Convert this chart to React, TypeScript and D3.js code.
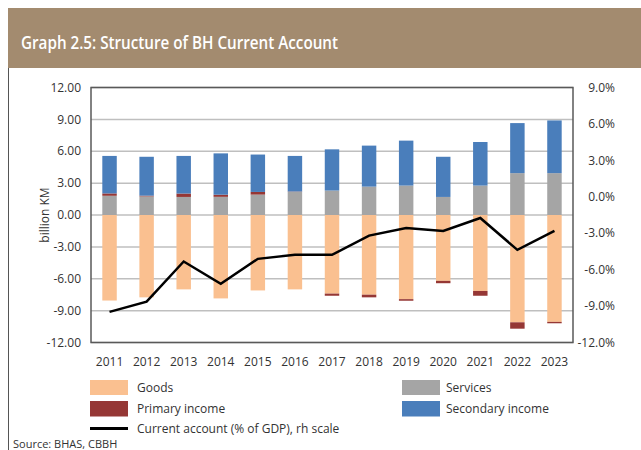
import React from "react";
import * as d3 from "d3";

const years = ["2011","2012","2013","2014","2015","2016","2017","2018","2019","2020","2021","2022","2023"];
const goods = [-8.05, -7.75, -7.0, -7.85, -7.1, -7.0, -7.4, -7.5, -7.92, -6.2, -7.15, -10.1, -10.06];
const services = [1.81, 1.75, 1.7, 1.71, 1.92, 2.18, 2.3, 2.67, 2.77, 1.7, 2.77, 3.94, 3.94];
const primaryIncome = [0.22, 0.07, 0.32, 0.2, 0.25, 0.03, -0.2, -0.25, -0.15, -0.22, -0.45, -0.6, -0.13];
const secondaryIncome = [3.53, 3.66, 3.54, 3.89, 3.52, 3.35, 3.88, 3.86, 4.23, 3.78, 4.1, 4.71, 4.96];
const currentAccountPct = [-9.48, -8.64, -5.33, -7.16, -5.11, -4.78, -4.78, -3.2, -2.57, -2.81, -1.75, -4.37, -2.81];
const leftTicks = [12, 9, 6, 3, 0, -3, -6, -9, -12];
const rightTicks = [9, 6, 3, 0, -3, -6, -9, -12];

const seriesKeys = ["goods", "services", "primary", "secondary"];
const seriesColors: Record<string, string> = {
  goods: "#fac090",
  services: "#a5a5a5",
  primary: "#953735",
  secondary: "#4a7ebb",
};

const W = 641, H = 450;
const plot = { left: 91, right: 573, top: 87.5, bottom: 342.5 };
const FONT = "'Open Sans', 'DejaVu Sans', sans-serif";

export default function App() {
  const rows = years.map((y, i) => ({
    year: y,
    goods: goods[i],
    services: services[i],
    primary: primaryIncome[i],
    secondary: secondaryIncome[i],
  }));
  const stack = d3.stack<any>().keys(seriesKeys).offset(d3.stackOffsetDiverging);
  const stacked = stack(rows);

  const x = d3.scaleBand<string>().domain(years).range([plot.left, plot.right]).paddingInner(0.61).paddingOuter(0.305);
  const yL = d3.scaleLinear().domain([-12, 12]).range([plot.bottom, plot.top]);
  const yR = d3.scaleLinear().domain([-12, 9]).range([plot.bottom, plot.top]);

  const line = d3.line<number>()
    .x((_, i) => (x(years[i]) as number) + x.bandwidth() / 2)
    .y((d) => yR(d));

  const textColor = "#333";

  return (
    <svg width={W} height={H} style={{ position: "absolute", left: 0, top: 0, display: "block" }} fontFamily={FONT}>
      <rect x={0} y={0} width={W} height={H} fill="#fff" />
      {/* title band */}
      <rect x={8} y={8} width={W - 8} height={60} fill="#a38b6f" />
      <text x={21} y={48.5} fill="#fff" fontSize={18} fontWeight={600} textLength={317} lengthAdjust="spacingAndGlyphs">
        Graph 2.5: Structure of BH Current Account
      </text>
      <line x1={8.5} x2={8.5} y1={68} y2={H} stroke="#555" strokeWidth={1} />

      {/* gridlines */}
      {leftTicks.map((t) => (
        <line key={"g" + t} x1={plot.left} x2={plot.right} y1={yL(t)} y2={yL(t)} stroke="#bfbfbf" strokeWidth={1.5} />
      ))}

      {/* bars */}
      {stacked.map((s) => (
        <g key={s.key} fill={seriesColors[s.key]}>
          {s.map((d, i) => {
            const y0 = yL(d[0]);
            const y1 = yL(d[1]);
            return (
              <rect
                key={i}
                x={x(years[i])}
                width={x.bandwidth()}
                y={Math.min(y0, y1)}
                height={Math.abs(y0 - y1)}
              />
            );
          })}
        </g>
      ))}

      {/* line */}
      <path d={line(currentAccountPct) || ""} fill="none" stroke="#000" strokeWidth={2.5} strokeLinejoin="miter" />

      {/* frame */}
      <rect x={plot.left} y={plot.top} width={plot.right - plot.left} height={plot.bottom - plot.top} fill="none" stroke="#595959" strokeWidth={1.5} />

      {/* left axis labels */}
      {leftTicks.map((t) => (
        <text key={"l" + t} x={81} y={yL(t)} dy="0.35em" textAnchor="end" fontSize={12} fill={textColor}>
          {t.toFixed(2)}
        </text>
      ))}
      <text transform={`translate(45,${yL(0)}) rotate(-90)`} textAnchor="middle" fontSize={12} fill={textColor} dy="0.35em">
        billion KM
      </text>

      {/* right axis labels */}
      {rightTicks.map((t) => (
        <text key={"r" + t} x={615} y={yR(t)} dy="0.35em" textAnchor="end" fontSize={12} fill={textColor}>
          {t.toFixed(1) + "%"}
        </text>
      ))}

      {/* x labels */}
      {years.map((yr) => (
        <text key={yr} x={(x(yr) as number) + x.bandwidth() / 2} y={366} textAnchor="middle" fontSize={12} fill={textColor}>
          {yr}
        </text>
      ))}

      {/* legend */}
      <rect x={90} y={380} width={38} height={15} fill={seriesColors.goods} />
      <text x={137} y={392} fontSize={12} fill={textColor}>Goods</text>
      <rect x={90} y={401} width={38} height={15.5} fill={seriesColors.primary} />
      <text x={137} y={413} fontSize={12} fill={textColor}>Primary income</text>
      <line x1={90} x2={128} y1={428.5} y2={428.5} stroke="#000" strokeWidth={3} />
      <text x={137} y={433} fontSize={12} fill={textColor}>Current account (% of GDP), rh scale</text>
      <rect x={402} y={380} width={38} height={15} fill={seriesColors.services} />
      <text x={446} y={392} fontSize={12} fill={textColor}>Services</text>
      <rect x={402} y={401} width={38} height={15.5} fill={seriesColors.secondary} />
      <text x={446} y={413} fontSize={12} fill={textColor}>Secondary income</text>

      <text x={13} y={448} fontSize={11} fill={textColor}>Source: BHAS, CBBH</text>
    </svg>
  );
}
